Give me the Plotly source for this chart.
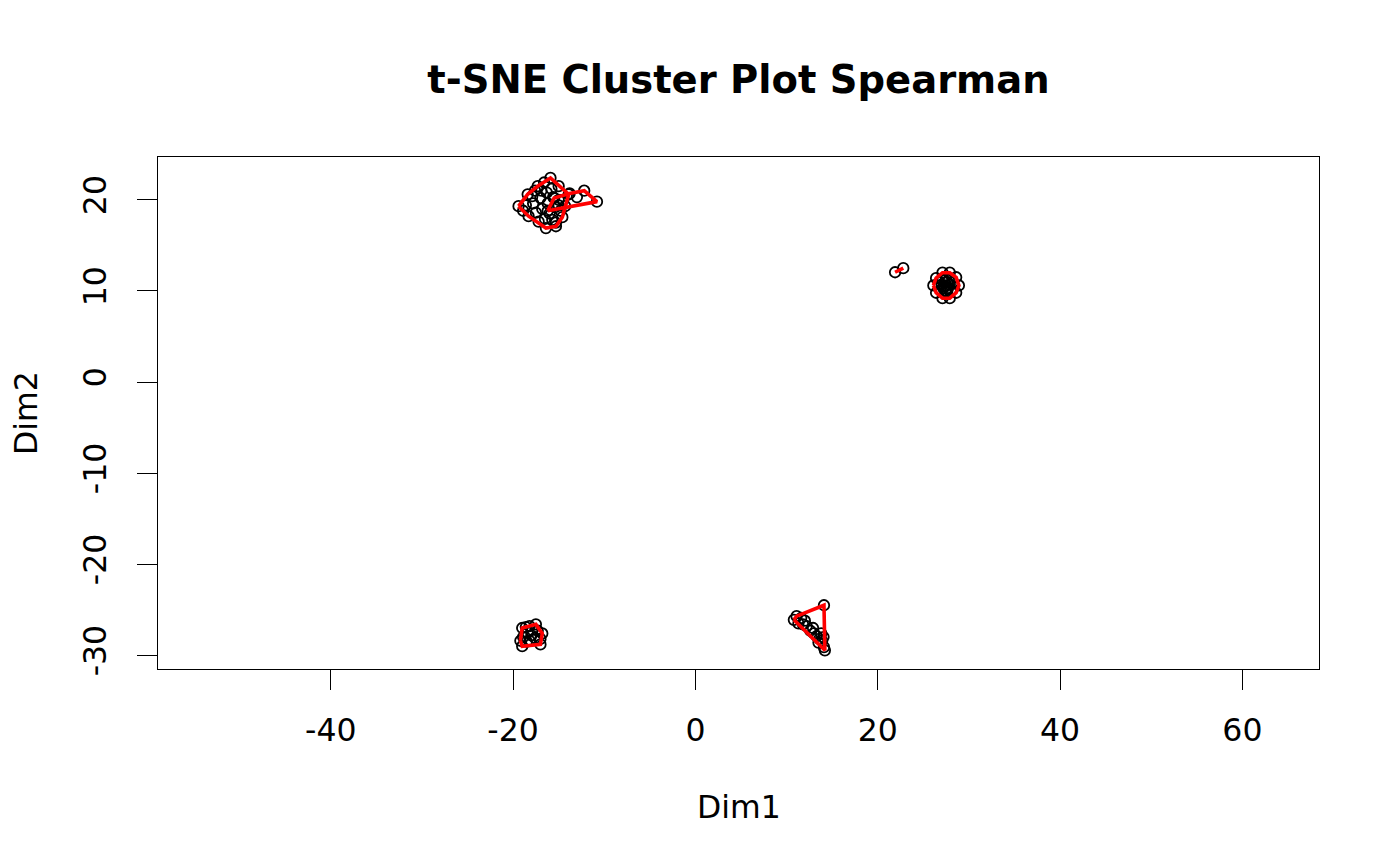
import plotly.graph_objects as go

# ---- data (Dim1, Dim2) per cluster ----
cluster_a_x = [-19.4, -15.9, -13.9, -14.6, -16.4, -18.4, -17.3, -16.6, -15.0, -14.3, -15.3, -17.2,
               -18.3, -18.9, -17.8, -17.0, -16.3, -15.6, -15.0, -16.8, -16.0, -15.4, -17.5, -16.5,
               -15.8, -17.9, -16.9, -14.8, -16.2, -18.6, -15.7, -17.6, -15.3]
cluster_a_y = [19.3, 22.4, 20.6, 18.1, 16.9, 20.6, 21.5, 21.9, 21.5, 19.3, 17.5, 17.6,
               18.2, 18.8, 19.6, 20.2, 20.8, 20.3, 20.0, 19.0, 18.5, 19.2, 18.6, 17.9,
               21.2, 20.4, 21.0, 18.8, 19.6, 19.4, 17.8, 21.0, 17.1]

cluster_b_x = [-16.2, -15.5, -13.8, -12.2, -10.8, -14.5, -13.0, -15.0]
cluster_b_y = [18.8, 20.2, 20.7, 21.0, 19.8, 20.0, 20.3, 19.4]

cluster_c_x = [28.9, 28.6, 27.9, 27.1, 26.4, 26.1, 26.4, 27.1, 27.9, 28.6,
               27.5, 27.3, 27.7, 27.6, 27.2, 27.9, 27.0, 27.4, 27.8, 27.1, 28.0, 27.5,
               26.9, 28.2, 27.6, 27.3]
cluster_c_y = [10.6, 11.5, 12.0, 12.0, 11.4, 10.6, 9.8, 9.2, 9.2, 9.8,
               10.6, 10.9, 10.3, 11.0, 10.3, 10.7, 10.7, 10.0, 11.2, 11.2, 10.1, 11.3,
               10.1, 10.9, 9.9, 10.5]

cluster_d_x = [21.9, 22.8]
cluster_d_y = [12.05, 12.5]

cluster_e_x = [-19.0, -17.5, -16.8, -17.0, -19.0, -18.0, -18.4, -17.6, -18.5, -17.9,
               -18.2, -17.3, -18.9, -18.2, -17.0, -19.2, -18.6]
cluster_e_y = [-27.0, -26.6, -27.6, -28.8, -29.0, -27.8, -27.5, -28.1, -28.5, -27.2,
               -28.4, -27.3, -28.0, -26.8, -28.2, -28.4, -26.9]

cluster_f_x = [14.1, 10.8, 14.2, 11.3, 11.8, 12.2, 12.6, 13.0, 13.3, 13.6, 13.9, 14.05,
               13.8, 12.9, 11.6, 11.1, 12.0, 13.5, 14.1]
cluster_f_y = [-24.5, -26.1, -29.45, -26.5, -26.6, -26.8, -27.3, -27.6, -27.9, -28.2, -28.4, -28.0,
               -27.6, -27.0, -25.9, -25.7, -26.2, -28.6, -29.1]

clusters = [
    (cluster_a_x, cluster_a_y),
    (cluster_b_x, cluster_b_y),
    (cluster_c_x, cluster_c_y),
    (cluster_d_x, cluster_d_y),
    (cluster_e_x, cluster_e_y),
    (cluster_f_x, cluster_f_y),
]

x_ticks = [-40, -20, 0, 20, 40, 60]
y_ticks = [-30, -20, -10, 0, 10, 20]


def convex_hull(xs, ys):
    pts = sorted(set(zip(xs, ys)))
    if len(pts) <= 2:
        return pts

    def cross(o, a, b):
        return (a[0] - o[0]) * (b[1] - o[1]) - (a[1] - o[1]) * (b[0] - o[0])

    lower, upper = [], []
    for p in pts:
        while len(lower) >= 2 and cross(lower[-2], lower[-1], p) <= 0:
            lower.pop()
        lower.append(p)
    for p in reversed(pts):
        while len(upper) >= 2 and cross(upper[-2], upper[-1], p) <= 0:
            upper.pop()
        upper.append(p)
    return lower[:-1] + upper[:-1]


FONT = "DejaVu Sans"
fig = go.Figure()

for xs, ys in clusters:
    fig.add_trace(go.Scatter(
        x=xs, y=ys, mode="markers",
        marker=dict(symbol="circle-open", size=10.5, color="black",
                    line=dict(color="black", width=1.8)),
        hoverinfo="x+y",
    ))

for xs, ys in clusters:
    hull = convex_hull(xs, ys)
    hx = [p[0] for p in hull] + [hull[0][0]]
    hy = [p[1] for p in hull] + [hull[0][1]]
    fig.add_trace(go.Scatter(
        x=hx, y=hy, mode="lines",
        line=dict(color="#ff0000", width=3.6),
        hoverinfo="skip",
    ))

axis_common = dict(
    showgrid=False, zeroline=False, showline=True, linecolor="black", linewidth=1.3,
    mirror=True, ticks="outside", ticklen=20, tickwidth=1.3, tickcolor="black",
    tickfont=dict(family=FONT, size=31.5, color="black"),
)

# page body has an 8px margin, so the figure is 8px smaller and offsets are shifted
W, H = 1392, 858

fig.update_layout(
    width=W, height=H,
    margin=dict(l=150, r=81, t=149, b=197),
    paper_bgcolor="white", plot_bgcolor="white",
    showlegend=False,
    title=dict(text="<b>t-SNE Cluster Plot Spearman</b>", x=0.5, xref="paper",
               y=1 - 72 / H, yref="container", yanchor="middle", xanchor="center",
               font=dict(family=FONT, size=38.5, color="black")),
    xaxis=dict(range=[-58.95, 68.4], tickvals=x_ticks, ticktext=[str(v) for v in x_ticks],
               ticklabelstandoff=13, **axis_common),
    yaxis=dict(range=[-31.5, 24.7], tickvals=y_ticks, ticktext=[str(v) for v in y_ticks],
               tickangle=-90, ticklabelstandoff=18, **axis_common),
    annotations=[
        dict(text="Dim1", x=0.5, y=(669 - 807) / 512, xref="paper", yref="paper",
             xanchor="center", yanchor="middle", showarrow=False,
             font=dict(family=FONT, size=31.5, color="black")),
        dict(text="Dim2", x=(26 - 158) / 1161, y=0.5, xref="paper", yref="paper",
             xanchor="center", yanchor="middle", showarrow=False, textangle=-90,
             font=dict(family=FONT, size=31.5, color="black")),
    ],
)

fig.write_html("out.html")
